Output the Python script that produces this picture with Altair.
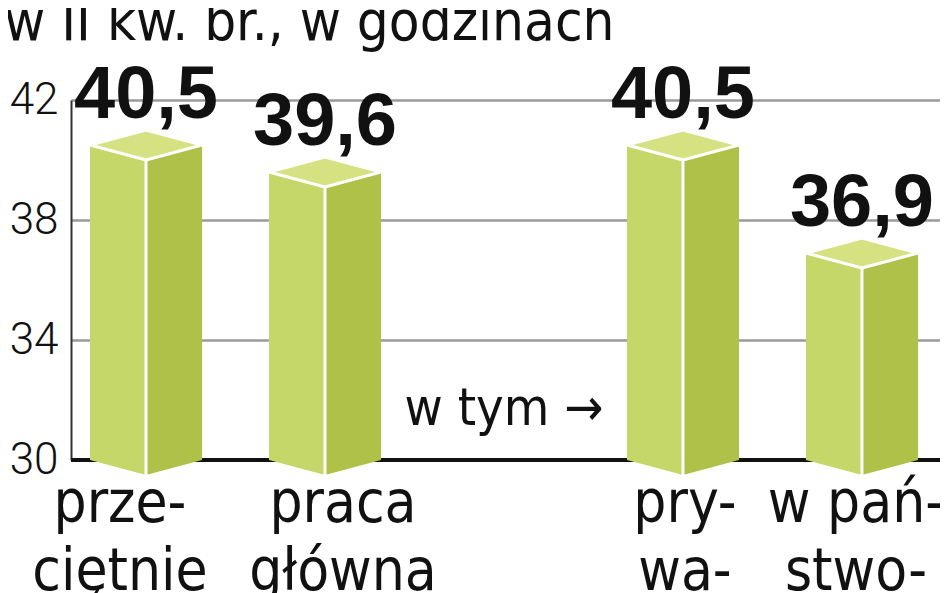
import altair as alt
import pandas as pd

# ---- data ----
title_text = "w II kw. br., w godzinach"
categories = ["prze-\nciętnie", "praca\ngłówna", "pry-\nwa-", "w pań-\nstwo-"]
values = [40.5, 39.6, 40.5, 36.9]
gap_label = "w tym →"
y_ticks = [30, 34, 38, 42]
base_value = 30

# ---- layout / style ----
W, H = 869, 360
X_DOMAIN = [-0.419, 4.436]
PX_PER_SLOT = W / (X_DOMAIN[1] - X_DOMAIN[0])
HALF = 0.313                     # half box width in slot units
HALF_PX = HALF * PX_PER_SLOT
DROP = 15 / HALF_PX              # perspective drop relative to half width (shape units)
SYM_SIZE = (2 * HALF_PX) ** 2
LABEL_DX_PX = [-26, 18, 2, -6]   # small horizontal nudges of the category labels
col_top, col_left, col_right = "#d6e281", "#c6d76a", "#afc149"
label_font = "DejaVu Sans Condensed, Roboto, Liberation Sans"

slots = [i if i < 2 else i + 1 for i in range(len(categories))]

df = pd.DataFrame({
    "cat": categories,
    "slot": slots,
    "value": values,
    "base": [base_value] * len(values),
    "lab": [f"{v:.1f}".replace(".", ",") for v in values],
})
df["xl"] = df["slot"] - HALF
df["xr"] = df["slot"] + HALF
df["lx"] = df["slot"] + pd.Series(LABEL_DX_PX) / PX_PER_SLOT

xs = alt.Scale(domain=X_DOMAIN, nice=False, zero=False)
ys = alt.Scale(domain=[30, 42], nice=False, zero=False)
y_axis = alt.Axis(
    values=y_ticks, title=None, ticks=False, labelPadding=13,
    labelFont="Roboto", labelFontWeight=300, labelFontSize=44, labelColor="#111",
    domainColor="#333", domainWidth=2,
    grid=True, gridColor="#9a9a9a", gridWidth=2.5,
)

base = alt.Chart(df)

baseline = alt.Chart(pd.DataFrame({"v": [base_value]})).mark_rule(
    color="#111", strokeWidth=4
).encode(y=alt.Y("v:Q", scale=ys, axis=y_axis), x=alt.value(0), x2=alt.value(W))

left_face = base.mark_bar(color=col_left, opacity=1).encode(
    x=alt.X("xl:Q", scale=xs, axis=None), x2="slot:Q",
    y=alt.Y("value:Q", scale=ys, axis=y_axis), y2="base:Q",
)
right_face = base.mark_bar(color=col_right, opacity=1).encode(
    x=alt.X("slot:Q", scale=xs, axis=None), x2="xr:Q",
    y=alt.Y("value:Q", scale=ys, axis=y_axis), y2="base:Q",
)

d = f"{DROP:.4f}"
tri_left = base.mark_point(
    shape=f"M-1,0L0,0L0,{d}Z", filled=True, fill=col_left, stroke=None,
    size=SYM_SIZE, opacity=1
).encode(x=alt.X("slot:Q", scale=xs, axis=None), y=alt.Y("base:Q", scale=ys, axis=y_axis))
tri_right = base.mark_point(
    shape=f"M0,0L1,0L0,{d}Z", filled=True, fill=col_right, stroke=None,
    size=SYM_SIZE, opacity=1
).encode(x=alt.X("slot:Q", scale=xs, axis=None), y=alt.Y("base:Q", scale=ys, axis=y_axis))

edge = base.mark_rule(color="white", strokeWidth=3).encode(
    x=alt.X("slot:Q", scale=xs, axis=None),
    y=alt.Y("value:Q", scale=ys, axis=y_axis),
    y2=alt.value(H + 15),
)

top_face = base.mark_point(
    shape=f"M-1,0L0,-{d}L1,0L0,{d}Z", filled=True, fill=col_top,
    stroke="white", strokeWidth=3, strokeJoin="round",
    size=SYM_SIZE, opacity=1
).encode(x=alt.X("slot:Q", scale=xs, axis=None), y=alt.Y("value:Q", scale=ys, axis=y_axis))

value_labels = base.mark_text(
    font="Liberation Sans", fontWeight="bold", fontSize=74, dy=-27,
    baseline="alphabetic", align="center", color="#111"
).encode(
    x=alt.X("slot:Q", scale=xs, axis=None),
    y=alt.Y("value:Q", scale=ys, axis=y_axis),
    text="lab:N",
)

cat_labels = base.mark_text(
    font=label_font, fontSize=58, lineBreak="\n", lineHeight=68,
    baseline="alphabetic", align="center", color="#111"
).encode(
    x=alt.X("lx:Q", scale=xs, axis=None),
    y=alt.value(422),
    text="cat:N",
)

gap_text = alt.Chart(pd.DataFrame({"t": [gap_label], "slot": [2]})).mark_text(
    font=label_font, fontSize=52, baseline="alphabetic", align="center", color="#111"
).encode(
    x=alt.X("slot:Q", scale=xs, axis=None),
    y=alt.value(325),
    text="t:N",
)

title = alt.Chart(pd.DataFrame({"t": [title_text]})).mark_text(
    font=label_font, fontSize=56, baseline="alphabetic", align="left", color="#111"
).encode(x=alt.value(-67), y=alt.value(-60), text="t:N")

chart = alt.layer(
    baseline, left_face, right_face, tri_left, tri_right, edge, top_face,
    value_labels, cat_labels, gap_text, title
).properties(
    width=W, height=H,
    padding={"left": 63, "top": 92, "right": 0, "bottom": 133},
    autosize=alt.AutoSizeParams(type="none"),
).configure_view(stroke=None)

chart.save("out.html", embed_options={"renderer": "svg", "actions": False})
